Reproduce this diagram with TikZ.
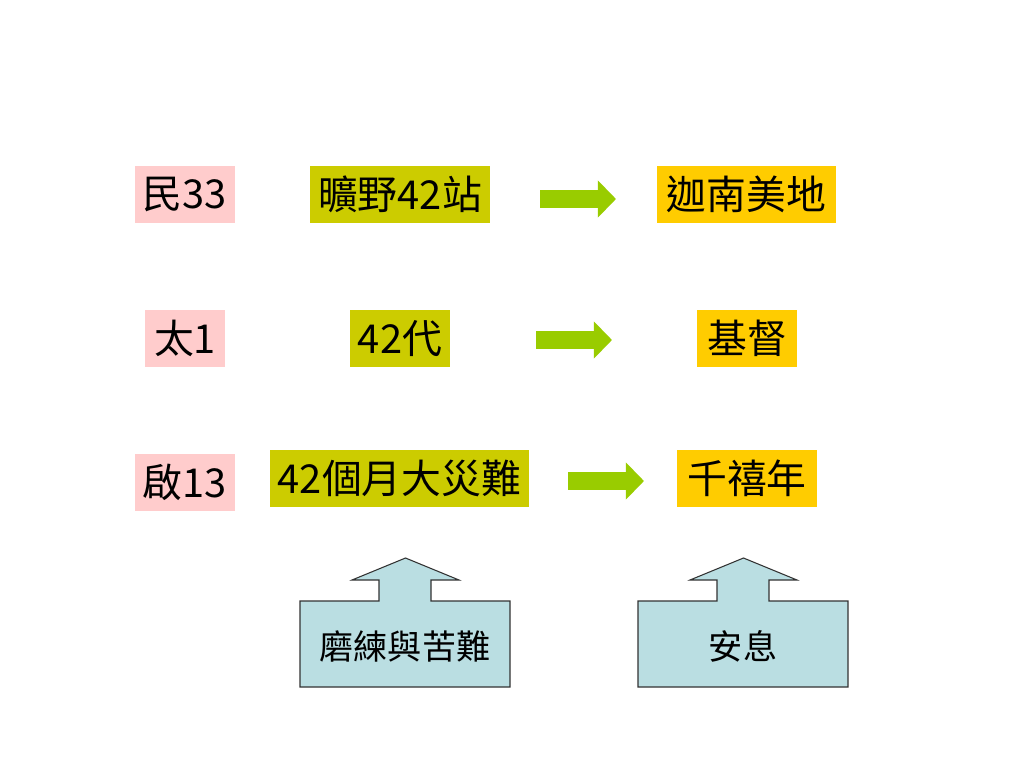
\documentclass[tikz,border=0pt]{standalone}
\usepackage{fontspec}
\setmainfont{Noto Sans CJK TC}
\usetikzlibrary{arrows.meta}

\newdimen\pxu \pxu=0.7031pt
\definecolor{refpink}{HTML}{FFCCCC}
\definecolor{eraolive}{HTML}{CCCC00}
\definecolor{goalgold}{HTML}{FFCC00}
\definecolor{gogreen}{HTML}{99CC00}
\definecolor{noteblue}{HTML}{BADEE2}

\begin{document}
\begin{tikzpicture}[x=0.7031pt, y=-0.7031pt,
    box/.style={minimum height=57\pxu, inner sep=0pt, font=\fontsize{28}{30}\selectfont},
    refbox/.style={box, fill=refpink},
    erabox/.style={box, fill=eraolive},
    goalbox/.style={box, fill=goalgold},
    go/.style={gogreen, line width=12pt, -{Triangle[length=12.7pt,width=25.3pt]}},
    callout/.style={fill=noteblue, draw=black!80, line width=0.75pt, line join=miter},
    note/.style={inner sep=0pt, font=\fontsize{24}{26}\selectfont}]
    \useasboundingbox (0,0) rectangle (1024,768);
    % row 1
    \node[refbox, minimum width=100\pxu] (min) at (185,194.5) {民33};
    \node[erabox, minimum width=180\pxu] (wild) at (400,194.5) {曠野42站};
    \node[goalbox, minimum width=179\pxu] (canaan) at (746.5,194.5) {迦南美地};
    \coordinate (a1) at (540,199);
    \coordinate (b1) at (616,199);
    \draw[go] (a1) -- (b1);
    % row 2
    \node[refbox, minimum width=80\pxu] (matt) at (185,338.5) {太1};
    \node[erabox, minimum width=100\pxu] (gen) at (400,338.5) {42代};
    \node[goalbox, minimum width=100\pxu] (christ) at (747,338.5) {基督};
    \coordinate (a2) at (536,340);
    \coordinate (b2) at (612,340);
    \draw[go] (a2) -- (b2);
    % row 3
    \node[refbox, minimum width=100\pxu] (rev) at (185,482.5) {啟13};
    \node[erabox, minimum width=259\pxu] (trib) at (399.5,478.5) {42個月大災難};
    \node[goalbox, minimum width=140\pxu] (mill) at (747,478.5) {千禧年};
    \coordinate (a3) at (568,481);
    \coordinate (b3) at (644,481);
    \draw[go] (a3) -- (b3);
    % up arrow callouts
    \filldraw[callout] (300,687) -- (300,601) -- (379,601) -- (379,580) -- (352,580)
        -- (405.5,558) -- (459,580) -- (431,580) -- (431,601) -- (510,601) -- (510,687) -- cycle;
    \node[note] (trial) at (405,646) {磨練與苦難};
    \filldraw[callout] (638,687) -- (638,601) -- (717,601) -- (717,580) -- (690,580)
        -- (743.5,558) -- (797,580) -- (769,580) -- (769,601) -- (848,601) -- (848,687) -- cycle;
    \node[note] (rest) at (743,646) {安息};
\end{tikzpicture}
\end{document}
